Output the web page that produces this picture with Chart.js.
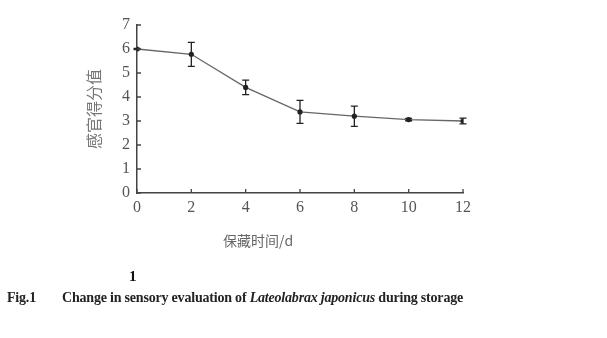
<!DOCTYPE html>
<html><head><meta charset="utf-8">
<script src="https://cdn.jsdelivr.net/npm/chart.js@4"></script>
<style>
html,body{margin:0;padding:0;background:#fff;width:607px;height:338px;overflow:hidden;}
#wrap{position:absolute;left:0;top:0;width:607px;height:338px;}
.t{position:absolute;white-space:nowrap;line-height:1;}
</style></head><body>
<div id="wrap"><canvas id="c" width="607" height="338"></canvas></div>
<div class="t" id="xt" style="left:223px;top:233px;font-size:14px;color:#666;font-family:'Noto Sans CJK SC',sans-serif;">保藏时间/d</div>
<div class="t" style="left:129px;top:269px;font-size:15px;font-weight:bold;color:#111;font-family:'Liberation Serif',serif;">1</div>
<div class="t" style="left:7px;top:291px;font-size:14px;font-weight:bold;color:#222;font-family:'Liberation Serif',serif;letter-spacing:-0.2px;">Fig.1</div>
<div class="t" id="cap" style="left:62px;top:291px;font-size:14px;font-weight:bold;color:#222;font-family:'Liberation Serif',serif;letter-spacing:-0.2px;">Change in sensory evaluation of <i>Lateolabrax japonicus</i> during storage</div>
<script>
const days = [0, 2, 4, 6, 8, 10, 12];
const scores = [6.0, 5.78, 4.4, 3.38, 3.2, 3.06, 3.0];
const errors = [0.03, 0.5, 0.3, 0.48, 0.42, 0.05, 0.12];
const xTickStep = 2;
const yMax = 7;
const yTitle = '感官得分值';

const errorBars = {
  id: 'errorBars',
  afterDatasetsDraw(chart) {
    const {ctx, scales: {x, y}} = chart;
    ctx.save();
    ctx.strokeStyle = '#222';
    ctx.lineWidth = 1.3;
    days.forEach((d, i) => {
      const px = x.getPixelForValue(d);
      const top = y.getPixelForValue(scores[i] + errors[i]);
      const bot = y.getPixelForValue(scores[i] - errors[i]);
      ctx.beginPath();
      ctx.moveTo(px, top); ctx.lineTo(px, bot);
      ctx.moveTo(px - 3.5, top); ctx.lineTo(px + 3.5, top);
      ctx.moveTo(px - 3.5, bot); ctx.lineTo(px + 3.5, bot);
      ctx.stroke();
    });
    ctx.restore();
  }
};
const innerTicks = {
  id: 'innerTicks',
  afterDraw(chart) {
    const {ctx, chartArea: a, scales: {x, y}} = chart;
    ctx.save();
    ctx.strokeStyle = '#444';
    ctx.lineWidth = 1.3;
    ctx.beginPath();
    y.ticks.forEach(t => { const py = y.getPixelForValue(t.value); ctx.moveTo(a.left, py); ctx.lineTo(a.left + 4, py); });
    x.ticks.forEach(t => { const px = x.getPixelForValue(t.value); ctx.moveTo(px, a.bottom); ctx.lineTo(px, a.bottom - 4); });
    ctx.stroke();
    ctx.restore();
  }
};

const tickFont = {family: "'Liberation Serif', serif", size: 16};
new Chart(document.getElementById('c'), {
  type: 'line',
  data: {
    datasets: [{
      data: days.map((d, i) => ({x: d, y: scores[i]})),
      borderColor: '#666', borderWidth: 1.3, tension: 0,
      pointRadius: 2.6, pointBackgroundColor: '#222', pointBorderWidth: 0
    }]
  },
  options: {
    responsive: false, animation: false,
    plugins: {legend: {display: false}, tooltip: {enabled: false}},
    layout: {padding: {top: 25, right: 144, bottom: 0, left: 0}},
    scales: {
      x: {
        type: 'linear', min: 0, max: 12,
        ticks: {stepSize: xTickStep, font: tickFont, color: '#555', padding: 5},
        grid: {display: false, drawTicks: false},
        border: {display: true, color: '#444', width: 1.5},
        afterFit(s) { s.height = 145; }
      },
      y: {
        min: 0, max: yMax,
        ticks: {stepSize: 1, font: tickFont, color: '#555', padding: 7},
        grid: {display: false, drawTicks: false},
        border: {display: true, color: '#444', width: 1.5},
        title: {display: true, text: yTitle, color: '#777',
          font: {family: "'Noto Sans CJK SC', sans-serif", size: 16}, padding: {top: 84, bottom: 0}},
        afterFit(s) { s.width = 137; }
      }
    }
  },
  plugins: [errorBars, innerTicks]
});
</script>
</body></html>
